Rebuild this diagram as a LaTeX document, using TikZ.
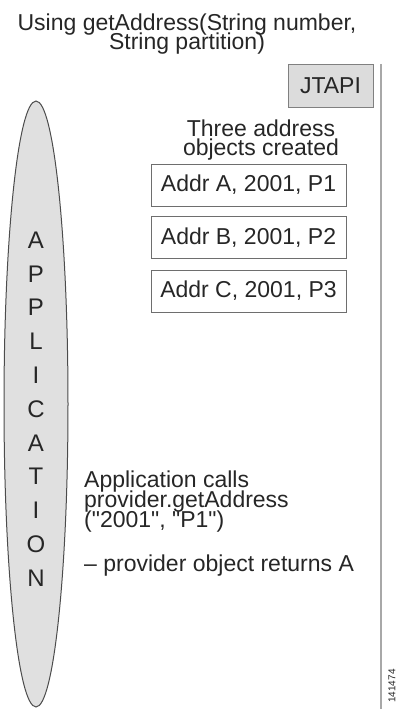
\documentclass[tikz,border=0pt]{standalone}
\usepackage{fontspec}
\setmainfont{Liberation Sans}[Ligatures=TeXOff]
\definecolor{boxline}{HTML}{6E6E6E}
\definecolor{appfill}{HTML}{E0E0E0}
\definecolor{jtapifill}{HTML}{DCDCDC}
\definecolor{sepline}{HTML}{A8A8A8}
\newcommand{\tightlines}[1]{\fontsize{23}{#1}\selectfont\lineskiplimit=-30pt\relax}
\begin{document}
\begin{tikzpicture}[x=1pt,y=-1pt,
  txt/.style={inner sep=0pt,font=\tightlines{19},text=black!85},
  addrbox/.style={txt,draw=boxline,line width=0.9pt,minimum width=195pt,minimum height=42pt}]
\useasboundingbox (0,0) rectangle (399,709);
% Title
\node[txt,anchor=base,align=center] (title) at (187,50) {Using getAddress(String number,\\String partition)};
% JTAPI side and its border line
\node[txt,draw=gray,fill=jtapifill,minimum width=85pt,minimum height=43pt] (jtapi) at (330.5,85.5) {JTAPI};
\coordinate (septop) at (381,64);
\coordinate (sepbot) at (381,709);
\draw[sepline,line width=2.2pt] (septop) -- (sepbot);
\node[txt,anchor=base,align=center] (three) at (261,155) {Three address\\objects created};
\node[addrbox] (addrA) at (248.5,185) {Addr A, 2001, P1};
\node[addrbox] (addrB) at (248.5,237.5) {Addr B, 2001, P2};
\node[addrbox] (addrC) at (248.5,291) {Addr C, 2001, P3};
% Application ellipse with its letters
\draw[fill=appfill,draw=black!70,line width=1pt] (36,404) ellipse (32 and 303);
\foreach \ch [count=\i] in {A,P,P,L,I,C,A,T,I,O,N}
  \node[txt,font=\fontsize{24}{24}\selectfont] (let\i) at (36,{240+33.8*(\i-1)}) {\ch};
% Call text
\node[txt,anchor=base west,align=left,font=\tightlines{20}] (calls) at (84,527) {Application calls\\provider.getAddress\\("2001", "P1")};
\node[txt,anchor=base west] (returns) at (84,571) {– provider object returns A};
\node[txt,rotate=90,font=\fontsize{10}{10}\selectfont] (figno) at (392,686) {141474};
\end{tikzpicture}
\end{document}
